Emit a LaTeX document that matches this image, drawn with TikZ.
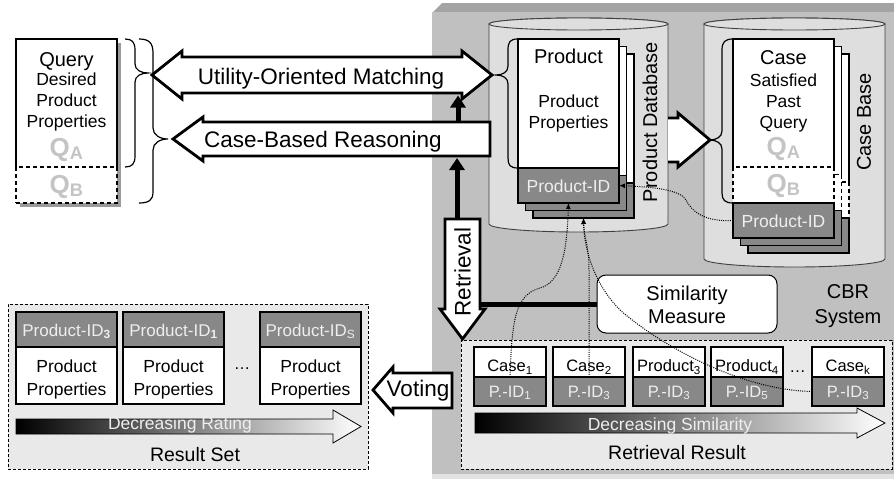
\documentclass[tikz,border=0pt]{standalone}
\usepackage{fontspec}
\setmainfont{Liberation Sans}
\usetikzlibrary{positioning, arrows.meta}

\definecolor{cbrgray}{HTML}{C0C0C0}
\definecolor{cbrtop}{HTML}{A4A4A4}
\definecolor{cbrfoot}{HTML}{E2E2E2}
\definecolor{dbfill}{HTML}{DEDEDE}
\definecolor{dbline}{HTML}{404040}
\definecolor{idgray}{HTML}{888888}
\definecolor{idtext}{HTML}{EEEEEE}
\definecolor{qgray}{HTML}{C4C4C4}
\definecolor{setfill}{HTML}{E9E9E9}
\definecolor{shadowgray}{HTML}{9A9A9A}

\newcommand{\fsz}[2]{\fontsize{#1}{#2}\selectfont}

\tikzset{
  bigtext/.style={font=\fsz{22.5}{27}},
  titletext/.style={font=\fsz{20}{24}},
  labeltext/.style={font=\fsz{19.5}{23}},
  midtext/.style={font=\fsz{17.5}{21}},
  smalltext/.style={font=\fsz{16.5}{20}},
  qtext/.style={font=\fsz{26}{30}\bfseries, text=qgray},
  cardline/.style={draw=black, line width=1.2pt},
  blockarrow/.style={draw=black, line width=2.8pt, fill=white, line join=miter},
  fatarrow/.style={line width=5pt, -{Triangle[length=12pt,width=15pt]}},
  fatline/.style={line width=5pt},
  refline/.style={line width=1pt, dash pattern=on 1pt off 1.2pt, -{Latex[length=6pt,width=5pt]}},
  bracepen/.style={line width=1.2pt},
  dbcyl/.style={draw=dbline, line width=0.9pt, fill=dbfill},
  prodbody/.style={cardline, fill=white, minimum width=101pt, minimum height=129pt, inner sep=0pt, outer sep=0pt},
  idcell/.style={cardline, fill=idgray, text=idtext, minimum width=101pt, minimum height=35pt, inner sep=0pt, outer sep=0pt, font=\fsz{17.5}{21}, text height=14pt, text depth=0pt},
  casebody/.style={fill=white, minimum width=101pt, minimum height=128pt, inner sep=0pt, outer sep=0pt},
  caseqb/.style={cardline, dash pattern=on 4pt off 3pt, fill=white, minimum width=101pt, minimum height=36pt, inner sep=0pt, outer sep=0pt},
  rtop/.style={cardline, fill=white, minimum width=72pt, minimum height=30pt, inner sep=0pt, outer sep=0pt, smalltext, text height=19.5pt, text depth=0pt},
  rid/.style={rtop, fill=idgray, text=idtext, minimum height=29pt, text height=11.5pt},
  setbox/.style={draw=black, line width=0.8pt, dash pattern=on 3pt off 2pt, fill=setfill, inner sep=0pt, outer sep=0pt},
  setid/.style={idcell, font=\fsz{17}{20}, text height=13pt},
  setprop/.style={cardline, fill=white, minimum width=101pt, minimum height=57pt, inner sep=0pt, outer sep=0pt},
  simbox/.style={draw=black, line width=1pt, fill=white, rounded corners=9pt, minimum width=180pt, minimum height=58pt},
  gradarrow/.style={left color=black, right color=white, draw=black, line width=0.8pt},
}

\begin{document}
\begin{tikzpicture}[x=1pt, y=-1pt]
\useasboundingbox (0,0) rectangle (894,479);

% CBR system
\fill[cbrtop] (432,13) -- (442,3) -- (894,3) -- (894,13) -- cycle;
\fill[cbrgray] (432,12) rectangle (894,474);
\fill[cbrfoot] (432,474) rectangle (894,479);

% databases
\path[dbcyl] (489,24) -- (489,224) arc[start angle=180, end angle=0, x radius=89.5, y radius=8] -- (668,24) arc[start angle=0, end angle=-180, x radius=89.5, y radius=6] -- cycle;
\draw[dbcyl] (578.5,24) ellipse[x radius=89.5, y radius=6];
\path[dbcyl] (704,24) -- (704,259) arc[start angle=180, end angle=0, x radius=90.5, y radius=8] -- (885,24) arc[start angle=0, end angle=-180, x radius=90.5, y radius=6] -- cycle;
\draw[dbcyl] (794.5,24) ellipse[x radius=90.5, y radius=6];
\node[titletext, rotate=90] (pdblabel) at (650,122) {Product Database};
\node[titletext, rotate=90] (cblabel) at (864,122) {Case Base};

% products
\foreach \d/\n in {15/3, 7.5/2} {
  \node[prodbody, anchor=north west] (prod\n) at (518+\d, 39+\d) {};
  \node[idcell, below=0pt of prod\n] (prodid\n) {};
}
\node[prodbody, anchor=north west] (prod1) at (518,39) {};
\node[idcell, below=0pt of prod1] (prodid1) {Product-ID};
\node[titletext, anchor=base] (prodtitle) at (568.5,63) {Product};
\node[midtext, anchor=base] (prodprop1) at (568.5,107) {Product};
\node[midtext, anchor=base] (prodprop2) at (568.5,128) {Properties};
\draw[bracepen] (prod1.north west) .. controls (510,39) and (508,42) .. (508,50) -- (508,66) .. controls (508,72) and (503,75) .. (496,75) .. controls (503,75) and (508,78) .. (508,84) -- (508,158) .. controls (508,165) and (510,168) .. (prod1.south west);

% cases
\foreach \d/\n in {15/3, 7.5/2} {
  \node[casebody, anchor=north west] (case\n) at (733+\d, 39+\d) {};
  \draw[cardline] (case\n.south west) |- (case\n.north east) -- (case\n.south east);
  \node[caseqb, below=0pt of case\n] (caseq\n) {};
  \node[idcell, below=0pt of caseq\n] (caseid\n) {};
}
\node[casebody, anchor=north west] (case1) at (733,39) {};
\draw[cardline] (case1.south west) |- (case1.north east) -- (case1.south east);
\node[caseqb, below=0pt of case1] (caseq1) {};
\node[idcell, below=0pt of caseq1] (caseid1) {Product-ID};
\node[titletext, anchor=base] (casetitle) at (783.5,64) {Case};
\node[midtext, anchor=base] (casedesc1) at (783.5,86) {Satisfied};
\node[midtext, anchor=base] (casedesc2) at (783.5,107) {Past};
\node[midtext, anchor=base] (casedesc3) at (783.5,128) {Query};
\node[qtext, anchor=base] (caseqa) at (783.5,155) {Q\textsubscript{A}};
\node[qtext, anchor=base] (caseqbtext) at (783.5,192) {Q\textsubscript{B}};
\draw[bracepen] (case1.north west) .. controls (725,39) and (722,42) .. (722,50) -- (722,131) .. controls (722,137) and (716,140) .. (710,140) .. controls (716,140) and (722,143) .. (722,149) -- (722,193) .. controls (722,200) and (725,203) .. (caseq1.south west);

% retrieval result
\node[setbox, minimum width=431pt, minimum height=129pt, anchor=north west] (rresult) at (461,340) {};
\node[rtop, anchor=north west] (c1) at (474,347) {Case\textsubscript{1}};
\node[rid, below=0pt of c1] (c1id) {P.-ID\textsubscript{1}};
\node[rtop, right=7pt of c1] (c2) {Case\textsubscript{2}};
\node[rid, below=0pt of c2] (c2id) {P.-ID\textsubscript{3}};
\node[rtop, right=8pt of c2] (c3) {Product\textsubscript{3}};
\node[rid, below=0pt of c3] (c3id) {P.-ID\textsubscript{3}};
\node[rtop, right=6pt of c3] (c4) {Product\textsubscript{4}};
\node[rid, below=0pt of c4] (c4id) {P.-ID\textsubscript{5}};
\node[rtop, right=29pt of c4] (ck) {Case\textsubscript{k}};
\node[rid, below=0pt of ck] (ckid) {P.-ID\textsubscript{3}};
\node[smalltext, anchor=base] (rdots) at (797.5,372) {\dots};
\shadedraw[gradarrow] (475,413) -- (857,413) -- (857,408) -- (885,423) -- (857,438) -- (857,433) -- (475,433) -- cycle;
\node[midtext, text=idtext, anchor=base] (simgrad) at (670,430) {Decreasing Similarity};
\node[labeltext, anchor=base] (rresultlabel) at (677,459) {Retrieval Result};

% result set
\node[setbox, minimum width=360pt, minimum height=165pt, anchor=north west] (rset) at (8,304) {};
\node[setid, anchor=north west] (s1id) at (16,312) {Product-ID\textsubscript{\textbf{3}}};
\node[setprop, below=0pt of s1id] (s1) {};
\node[setid, right=6pt of s1id] (s2id) {Product-ID\textsubscript{\textbf{1}}};
\node[setprop, below=0pt of s2id] (s2) {};
\node[setid, right=36pt of s2id] (s3id) {Product-ID\textsubscript{S}};
\node[setprop, below=0pt of s3id] (s3) {};
\foreach \s in {s1,s2,s3} {
  \node[midtext, anchor=base] (\s-line1) at ([yshift=3pt]\s.center) {Product};
  \node[midtext, anchor=base] (\s-line2) at ([yshift=-19.5pt]\s.center) {Properties};
}
\node[smalltext, anchor=base] (sdots) at (242,369) {\dots};
\shadedraw[gradarrow] (16,419) -- (333,419) -- (333,410) -- (361,426.5) -- (333,443) -- (333,434) -- (16,434) -- cycle;
\node[midtext, text=idtext, anchor=base] (rategrad) at (180,429) {Decreasing Rating};
\node[labeltext, anchor=base] (rsetlabel) at (195,461) {Result Set};

% block arrows
\draw[blockarrow] (152,75) -- (182,51) -- (182,57) -- (462,57) -- (462,51) -- (492,75) -- (462,99) -- (462,93) -- (182,93) -- (182,99) -- cycle;
\node[bigtext, anchor=base] (uom) at (321,84) {Utility-Oriented Matching};
\draw[blockarrow] (173,139) -- (203,117) -- (203,122) -- (490,122) -- (490,156) -- (203,156) -- (203,161) -- cycle;
\node[bigtext, anchor=base] (cbr) at (323,147) {Case-Based Reasoning};
\draw[blockarrow] (668,118) -- (678,118) -- (678,113) -- (710,140) -- (678,167) -- (678,162) -- (668,162);
\draw[blockarrow] (445,219) -- (480,219) -- (480,309) -- (485,309) -- (462.5,339) -- (440,309) -- (445,309) -- cycle;
\node[bigtext, rotate=90] (retr) at (462.5,272) {Retrieval};
\draw[blockarrow] (373,390) -- (393,367) -- (393,373) -- (452,373) -- (452,408) -- (393,408) -- (393,413) -- cycle;
\node[bigtext, anchor=base] (vote) at (418,396) {Voting};

% similarity measure
\node[simbox] (sim) at (687,304) {};
\node[titletext, anchor=base] (simtext1) at (687,300) {Similarity};
\node[titletext, anchor=base] (simtext2) at (687,323) {Measure};
\node[titletext, anchor=base] (cbrsys1) at (848,298) {CBR};
\node[titletext, anchor=base] (cbrsys2) at (848,323) {System};

\coordinate (uomS) at (458,95.5);
\coordinate (cbrN) at (458,122);
\coordinate (cbrS) at (457,158);
\coordinate (retrN) at (457,219);
\coordinate (retrE) at (480,304);
\draw[fatarrow] (cbrN) -- (uomS);
\draw[fatarrow] (retrN) -- (cbrS);
\draw[fatline] (retrE) -- (sim.west);

% query
\fill[shadowgray] (20,43) rectangle (121,207);
\node[casebody, anchor=north west] (query) at (16,39) {};
\draw[cardline] (query.south west) |- (query.north east) -- (query.south east);
\node[caseqb, below=0pt of query] (queryb) {};
\node[titletext, anchor=base] (qtitle) at (66.5,66) {Query};
\node[midtext, anchor=base] (qdesc1) at (66.5,85) {Desired};
\node[midtext, anchor=base] (qdesc2) at (66.5,106) {Product};
\node[midtext, anchor=base] (qdesc3) at (66.5,127) {Properties};
\node[qtext, anchor=base] (qa) at (66.5,156) {Q\textsubscript{A}};
\node[qtext, anchor=base] (qb) at (66.5,193) {Q\textsubscript{B}};
\draw[bracepen] (125,39) .. controls (132,39) and (135,42) .. (135,50) -- (135,64) .. controls (135,70) and (141,73) .. (148,73) .. controls (141,73) and (135,76) .. (135,82) -- (135,156) .. controls (135,164) and (132,167) .. (125,167);
\draw[bracepen] (139,39) .. controls (149,39) and (153,43) .. (153,53) -- (153,128) .. controls (153,135) and (160,139) .. (168,139) .. controls (160,139) and (153,143) .. (153,150) -- (153,192) .. controls (153,200) and (149,203) .. (139,203);

% references
\draw[refline] (caseid1.west) .. controls (705,222) and (692,212) .. (686,200) .. controls (680,189) and (650,187) .. (prodid1.east);
\draw[refline] (c1id.north) .. controls (512,320) and (515,295) .. (540,288) .. controls (562,282) and (567,250) .. (prodid1.south);
\draw[refline] (c2id.north) -- (589,270) .. controls (589,245) and (584,238) .. (prodid3.south);
\draw[refline] (ckid.west) .. controls (740,390) and (660,345) .. (620,310) .. controls (595,285) and (584,250) .. (prodid3.south);
\end{tikzpicture}
\end{document}
